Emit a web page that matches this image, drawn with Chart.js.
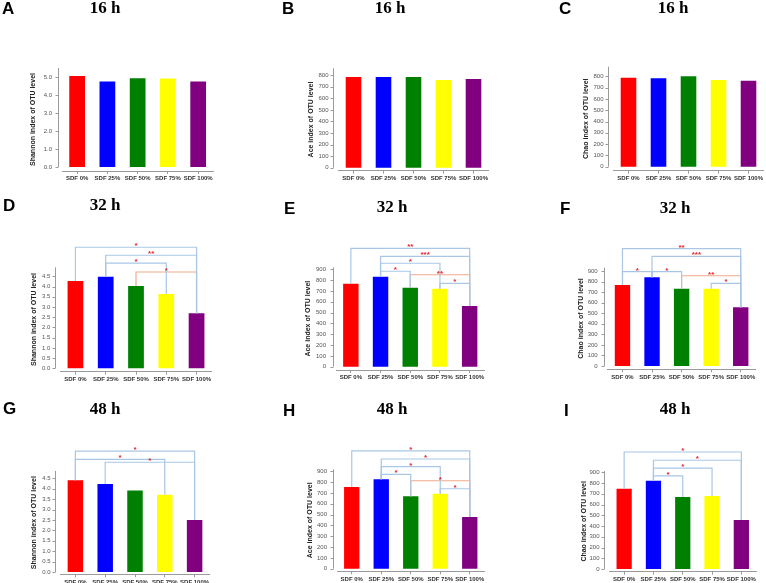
<!DOCTYPE html>
<html>
<head>
<meta charset="utf-8">
<script src="https://cdn.jsdelivr.net/npm/chart.js@4.4.1/dist/chart.umd.min.js"></script>
<style>
  body { margin: 0; background: #fff; width: 766px; height: 583px; position: relative; overflow: hidden; }
  canvas { position: absolute; }
  .tag { position: absolute; font: bold 17px Arial, "Liberation Sans", sans-serif; transform: translateY(-50%); color: #000; }
  .hrs { position: absolute; font: bold 17px "Liberation Serif", "Times New Roman", serif; transform: translate(-50%, -50%); color: #000; white-space: nowrap; }
</style>
</head>
<body>
<script>
const categories = ['SDF 0%', 'SDF 25%', 'SDF 50%', 'SDF 75%', 'SDF 100%'];
const barColors = ['#ff0000', '#0000ff', '#008000', '#ffff00', '#800080'];

// index values
const shannon16 = [5.05, 4.75, 4.93, 4.92, 4.75];
const ace16 = [785, 785, 785, 759, 768];
const chao16 = [788, 782, 800, 767, 761];
const shannon32 = [4.27, 4.48, 4.03, 3.63, 2.69];
const ace32 = [767, 832, 730, 721, 561];
const chao32 = [767, 840, 732, 732, 556];
const shannon48 = [4.40, 4.23, 3.91, 3.71, 2.50];
const ace48 = [755, 826, 669, 693, 478];
const chao48 = [748, 822, 670, 680, 456];

// y tick values
const shannonTicks16 = [0, 0.5, 1, 1.5, 2, 2.5, 3, 3.5, 4, 4.5, 5, 5.5];
const shannonTicks = [0, 0.5, 1, 1.5, 2, 2.5, 3, 3.5, 4, 4.5];
const richTicks16 = [0, 100, 200, 300, 400, 500, 600, 700, 800];
const richTicks = [0, 100, 200, 300, 400, 500, 600, 700, 800, 900];

// significance brackets: [from bar, to bar, bracket height, stars, orange?]
const sigShannon32 = [[2, 4, 4.71, '*', 1], [0, 4, 5.92, '*'], [1, 4, 5.53, '**'], [1, 3, 5.14, '*']];
const sigAce32 = [[2, 4, 850, '**', 1], [0, 4, 1094, '**'], [1, 4, 1020, '***'], [1, 3, 956, '*'], [1, 2, 882, '*'], [3, 4, 771, '*']];
const sigChao32 = [[2, 4, 855, '**', 1], [0, 4, 1111, '**'], [1, 4, 1039, '***'], [0, 1, 893, '*'], [1, 2, 893, '*'], [3, 4, 783, '*']];
const sigShannon48 = [[0, 4, 5.80, '*'], [0, 3, 5.41, '*'], [1, 4, 5.27, '*']];
const sigAce48 = [[2, 4, 813, '*', 1], [0, 4, 1088, '*'], [1, 4, 1014, '*'], [1, 3, 943, '*'], [1, 2, 872, '*'], [3, 4, 739, '*']];
const sigChao48 = [[0, 4, 1089, '*'], [1, 4, 1012, '*'], [1, 3, 938, '*'], [1, 2, 866, '*']];

const SH = 'Shannon index of OTU level', ACE = 'Ace index of OTU level', CHAO = 'Chao index of OTU level';

// canvas = [left, top, w, h]; area = [left, top, right, bottom] of the plot region
const panels = [
  { tag: 'A', hrs: '16 h', yTitle: SH, values: shannon16, sig: [], ticks: shannonTicks16, dec: 1, yMin: -0.22, yMax: 5.5,
    canvas: [0, 0, 255, 190], area: [62, 68, 213.3, 171], titleX: 33.5, gap: 4, tagAt: [2, 9], hrsAt: [105, 8] },
  { tag: 'B', hrs: '16 h', yTitle: ACE, values: ace16, sig: [], ticks: richTicks16, dec: 0, yMin: -26, yMax: 860,
    canvas: [255, 0, 255, 190], area: [338.5, 68.3, 488.5, 170.7], titleX: 311.5, gap: 5.8, tagAt: [282, 9], hrsAt: [390, 8] },
  { tag: 'C', hrs: '16 h', yTitle: CHAO, values: chao16, sig: [], ticks: richTicks16, dec: 0, yMin: -35, yMax: 885,
    canvas: [510, 0, 256, 190], area: [613.5, 66.7, 763.5, 170.7], titleX: 586.5, gap: 5.8, tagAt: [559, 9], hrsAt: [673, 8] },
  { tag: 'D', hrs: '32 h', yTitle: SH, values: shannon32, sig: sigShannon32, ticks: shannonTicks, dec: 1, yMin: -0.166, yMax: 4.94,
    canvas: [0, 190, 255, 200], area: [60.3, 267.3, 211.7, 371.7], titleX: 34, gap: 5.3, tagAt: [3, 206], hrsAt: [105, 205] },
  { tag: 'E', hrs: '32 h', yTitle: ACE, values: ace32, sig: sigAce32, ticks: richTicks, dec: 0, yMin: -30.5, yMax: 918.7,
    canvas: [255, 190, 255, 200], area: [336, 267.3, 484.5, 370], titleX: 308.5, gap: 3.3, tagAt: [284, 209], hrsAt: [392, 207] },
  { tag: 'F', hrs: '32 h', yTitle: CHAO, values: chao32, sig: sigChao32, ticks: richTicks, dec: 0, yMin: -31, yMax: 931,
    canvas: [510, 190, 256, 200], area: [607.7, 267.7, 755.5, 369.3], titleX: 581, gap: 3.4, tagAt: [560, 209], hrsAt: [675, 208] },
  { tag: 'G', hrs: '48 h', yTitle: SH, values: shannon48, sig: sigShannon48, ticks: shannonTicks, dec: 1, yMin: -0.11, yMax: 4.85,
    canvas: [0, 390, 255, 200], area: [60.5, 471, 209.5, 574.3], titleX: 34, gap: 5.5, tagAt: [3, 409], hrsAt: [105, 409] },
  { tag: 'H', hrs: '48 h', yTitle: ACE, values: ace48, sig: sigAce48, ticks: richTicks, dec: 0, yMin: -24, yMax: 918.6,
    canvas: [255, 390, 255, 200], area: [337, 469.3, 484.5, 571.3], titleX: 310, gap: 4.3, tagAt: [283, 411], hrsAt: [392, 409] },
  { tag: 'I', hrs: '48 h', yTitle: CHAO, values: chao48, sig: sigChao48, ticks: richTicks, dec: 0, yMin: -25, yMax: 912,
    canvas: [510, 390, 256, 200], area: [609.5, 471, 756, 571.7], titleX: 584, gap: 5.2, tagAt: [564, 411], hrsAt: [675, 409] },
];

Chart.defaults.font.family = 'Arial, "Liberation Sans", sans-serif';

const BRACKET = '#a9c7e5';
const ORANGE = '#f2aa8a';
const X_AXIS_H = 14;

// significance brackets, drawn from the bar tops up to the bracket height
const sigPlugin = {
  id: 'sig',
  afterDatasetsDraw(chart, args, opts) {
    const { ctx, scales: { x, y } } = chart;
    const vals = chart.data.datasets[0].data;
    const pairs = opts.pairs || [];
    ctx.save();
    ctx.lineWidth = 1.2;
    pairs.forEach(([a, b, h, , orange]) => {
      const xa = x.getPixelForValue(a), xb = x.getPixelForValue(b), yh = y.getPixelForValue(h);
      ctx.strokeStyle = orange ? ORANGE : BRACKET;
      ctx.beginPath();
      ctx.moveTo(xa, y.getPixelForValue(vals[a]));
      ctx.lineTo(xa, yh);
      ctx.lineTo(xb, yh);
      ctx.lineTo(xb, y.getPixelForValue(vals[b]));
      ctx.stroke();
    });
    ctx.fillStyle = '#e3262b';
    ctx.font = 'bold 8px Arial, "Liberation Sans", sans-serif';
    ctx.textAlign = 'center';
    ctx.textBaseline = 'alphabetic';
    pairs.forEach(([a, b, h, stars]) => {
      const xm = (x.getPixelForValue(a) + x.getPixelForValue(b)) / 2;
      ctx.fillText(stars, xm, y.getPixelForValue(h) + 1);
    });
    ctx.restore();
  }
};

// R-style y axis: line from 0 to the top, set a little left of the plot
const axisPlugin = {
  id: 'raxis',
  afterDraw(chart, args, opts) {
    const { ctx, chartArea, scales: { y } } = chart;
    const ax = Math.round(chartArea.left - opts.gap) + 0.5;
    ctx.save();
    ctx.strokeStyle = '#9a9a9a';
    ctx.lineWidth = 1;
    ctx.beginPath();
    ctx.moveTo(ax, y.getPixelForValue(0));
    ctx.lineTo(ax, chartArea.top);
    y.ticks.forEach(t => {
      const py = Math.round(y.getPixelForValue(t.value)) + 0.5;
      ctx.moveTo(ax, py);
      ctx.lineTo(ax - 3, py);
    });
    ctx.stroke();
    ctx.restore();
  }
};

panels.forEach(p => {
  const [cl, ct, cw, ch] = p.canvas;
  const [al, at, ar, ab] = p.area;
  const scaleLeft = p.titleX - 4.2;
  const yWidth = al - scaleLeft;

  const cv = document.createElement('canvas');
  cv.width = cw;
  cv.height = ch;
  cv.style.left = cl + 'px';
  cv.style.top = ct + 'px';
  document.body.appendChild(cv);

  const tag = document.createElement('div');
  tag.className = 'tag';
  tag.textContent = p.tag;
  tag.style.left = p.tagAt[0] + 'px';
  tag.style.top = p.tagAt[1] + 'px';
  document.body.appendChild(tag);

  const hrs = document.createElement('div');
  hrs.className = 'hrs';
  hrs.textContent = p.hrs;
  hrs.style.left = p.hrsAt[0] + 'px';
  hrs.style.top = p.hrsAt[1] + 'px';
  document.body.appendChild(hrs);

  new Chart(cv, {
    type: 'bar',
    data: {
      labels: categories,
      datasets: [{
        data: p.values,
        backgroundColor: barColors,
        barPercentage: 0.52,
        categoryPercentage: 1,
      }],
    },
    options: {
      responsive: false,
      animation: false,
      layout: { padding: { left: scaleLeft - cl, top: at - ct, right: cl + cw - ar, bottom: ct + ch - ab - X_AXIS_H } },
      plugins: {
        legend: { display: false },
        tooltip: { enabled: false },
        sig: { pairs: p.sig },
        raxis: { gap: p.gap },
      },
      scales: {
        x: {
          offset: true,
          grid: { display: true, drawOnChartArea: false, offset: false, tickLength: 3, color: '#9a9a9a' },
          border: { display: true, color: '#9a9a9a' },
          ticks: { padding: 1, color: '#333', maxRotation: 0, autoSkip: false, font: { size: 6, weight: 'bold' } },
          afterFit: s => { s.height = X_AXIS_H; },
        },
        y: {
          min: p.yMin,
          max: p.yMax,
          grid: { display: false, drawTicks: true, tickLength: 8 },
          border: { display: false },
          ticks: {
            padding: 2,
            color: '#555',
            font: { size: 6 },
            callback: v => p.dec ? Number(v).toFixed(1) : v,
          },
          title: { display: true, text: p.yTitle, padding: 0, color: '#222', font: { size: 7, weight: 'bold' } },
          afterBuildTicks: s => { s.ticks = p.ticks.map(v => ({ value: v })); },
          afterFit: s => { s.width = yWidth; },
        },
      },
    },
    plugins: [sigPlugin, axisPlugin],
  });
});
</script>
</body>
</html>
